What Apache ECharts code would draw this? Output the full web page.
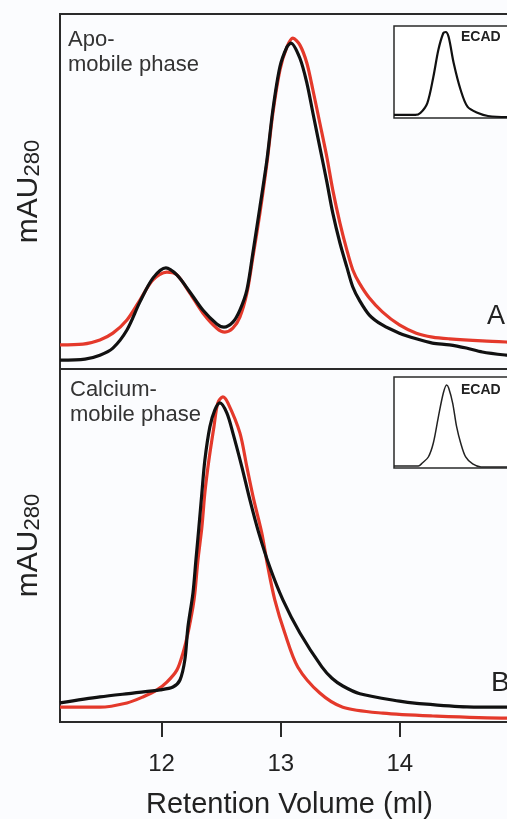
<!DOCTYPE html>
<html><head><meta charset="utf-8">
<script src="https://cdn.jsdelivr.net/npm/echarts@6/dist/echarts.min.js"></script>
<style>html,body{margin:0;padding:0;background:#fbfcfe}#c{width:507px;height:819px}</style>
</head><body><div id="c"></div>
<script>
// ---- data ----
const volumeTicks = [12, 13, 14];
const xLabel = 'Retention Volume (ml)';
const yLabelMain = 'mAU';
const yLabelSub = '280';

// Panel A (Apo- mobile phase)
const apoBlackX = [11.147,11.357,11.482,11.591,11.709,11.818,11.927,12.036,12.128,12.237,12.346,12.463,12.523,12.598,12.657,12.716,12.766,12.825,12.884,12.934,12.993,13.052,13.085,13.160,13.219,13.270,13.328,13.387,13.437,13.497,13.555,13.605,13.660,13.744,13.853,13.996,14.138,14.273,14.416,14.558,14.692,14.893,15.0];
const apoBlackY = [2.5,2.8,3.9,5.9,11.0,18.9,25.6,28.5,26.5,21.7,16.6,12.7,11.8,13.2,16.6,22.3,32.7,45.6,58.9,73.0,85.1,90.7,91.8,87.6,80.6,72.1,62.5,52.7,43.9,35.5,28.7,23.1,19.4,15.2,12.4,10.1,8.5,7.3,6.8,5.9,4.8,3.9,3.6];
const apoRedX = [11.147,11.340,11.482,11.591,11.709,11.818,11.927,12.044,12.128,12.237,12.346,12.463,12.531,12.598,12.657,12.716,12.766,12.825,12.884,12.934,12.993,13.052,13.102,13.160,13.219,13.270,13.328,13.387,13.437,13.497,13.555,13.605,13.660,13.744,13.853,13.996,14.138,14.273,14.416,14.692,14.893,15.0];
const apoRedY = [6.8,7.0,8.2,10.1,13.8,19.4,25.1,27.3,26.5,21.4,15.8,11.5,10.4,11.5,14.6,21.4,31.5,43.9,58.0,72.1,84.2,90.7,93.2,91.3,86.2,78.6,69.3,59.7,50.4,41.1,33.5,27.9,24.2,20.0,16.1,12.4,10.1,9.0,8.5,7.9,7.6,7.5];

// Panel B (Calcium- mobile phase)
const caBlackX = [11.147,11.482,11.759,11.986,12.095,12.154,12.195,12.221,12.263,12.288,12.313,12.338,12.363,12.405,12.447,12.489,12.548,12.598,12.674,12.741,12.816,12.908,13.018,13.161,13.345,13.430,13.521,13.664,13.996,14.142,14.562,14.897,15.0];
const caBlackY = [5.4,7.1,8.2,9.1,9.9,11.9,17.6,26.9,36.5,45.9,55.2,64.9,74.2,83.6,88.4,90.4,87.5,81.9,72.2,62.9,53.5,43.9,34.6,25.2,15.6,12.4,10.2,8.0,5.9,5.3,4.3,4.2,4.2];
const caRedX = [11.147,11.482,11.709,11.843,11.961,12.044,12.128,12.179,12.221,12.263,12.279,12.305,12.338,12.363,12.397,12.439,12.472,12.514,12.556,12.657,12.716,12.774,12.841,12.892,12.950,13.034,13.143,13.328,13.521,13.857,14.277,14.897,15.0];
const caRedY = [4.2,4.2,5.4,7.1,9.1,11.3,14.7,19.5,25.2,32.6,36.5,45.9,55.2,64.9,74.2,83.6,90.4,92.1,90.4,81.9,72.2,62.9,53.5,43.9,34.6,25.2,15.6,8.2,4.2,2.5,1.7,1.1,1.1];

// Insets (ECAD reference)
const ecadAX = [0,0.64,0.79,1.0,1.18,1.33,1.48,1.55,1.64,1.79,2.0,2.21,2.52,2.82,3.42,4.5];
const ecadAY = [3.3,3.3,5.4,16.3,44.6,73.9,92.4,93.5,88.0,59.8,30.4,12.0,5.4,2.2,1.1,1.1];
const ecadBX = [0,0.73,0.85,1.03,1.18,1.33,1.48,1.58,1.64,1.76,1.88,2.0,2.15,2.36,2.61,3.42,4.5];
const ecadBY = [2.2,2.2,5.5,12.1,27.5,56.0,82.4,91.2,87.9,71.4,45.1,27.5,12.1,4.4,1.1,1.1,1.1];

// ---- chart ----
const zip = (xs, ys) => xs.map((x, i) => [x, ys[i]]);
const FONT = 'Liberation Sans, Arial, sans-serif';
const FRAME = '#2a2a2a';
const RED = '#e4392b';
const BLACK = '#111111';
const X_MIN = 11.147, X_MAX = 15.0;

const chart = echarts.init(document.getElementById('c'), null, {renderer: 'canvas'});

const mainY = (gi) => ({
  gridIndex: gi, type: 'value', min: 0, max: 100,
  axisLine: {show: false}, axisTick: {show: false}, axisLabel: {show: false}, splitLine: {show: false},
  name: '{a|' + yLabelMain + '}{b|' + yLabelSub + '}',
  nameLocation: 'middle', nameRotate: 90, nameGap: 16,
  nameTextStyle: {
    color: '#222', fontFamily: FONT,
    rich: {
      a: {fontSize: 30, fontFamily: FONT, color: '#222', verticalAlign: 'bottom', lineHeight: 34},
      b: {fontSize: 22, fontFamily: FONT, color: '#222', verticalAlign: 'bottom', lineHeight: 31}
    }
  }
});
const insetY = (gi) => ({gridIndex: gi, type: 'value', min: 0, max: 100, show: false});
const insetX = (gi) => ({
  gridIndex: gi, type: 'value', min: 0, max: 4.5, interval: 1,
  axisLine: {show: false},
  axisTick: {show: true, inside: true, length: 3, lineStyle: {color: FRAME, width: 1}},
  axisLabel: {show: false}, splitLine: {show: false}
});

const line = (xi, yi, data, color, width) => ({
  type: 'line', xAxisIndex: xi, yAxisIndex: yi, data: data,
  showSymbol: false, smooth: 0.3,
  lineStyle: {color: color, width: width}, silent: true, animation: false, z: 3
});

const PX_PER_ML = 459 / (X_MAX - X_MIN);
const tickLeft = 60 + (12 - X_MIN) * PX_PER_ML;

const txt = (left, top, text, size, lh, fill, weight) => ({
  type: 'text', left: left, top: top, z: 10,
  style: {text: text, fontSize: size, fontFamily: FONT, fill: fill, lineHeight: lh, fontWeight: weight || 'normal'}
});

const G = {outerBoundsMode: 'none', containLabel: false};

chart.setOption({
  animation: false,
  backgroundColor: '#fbfcfe',
  grid: [
    Object.assign({left: 60, top: 14, width: 459, height: 355, show: true, borderColor: FRAME, borderWidth: 2, backgroundColor: '#fbfcfe'}, G),
    Object.assign({left: 60, top: 369, width: 459, height: 353, show: true, borderColor: FRAME, borderWidth: 2, backgroundColor: '#fbfcfe'}, G),
    Object.assign({left: 394, top: 26, width: 150, height: 92, show: true, borderColor: FRAME, borderWidth: 1.5, backgroundColor: '#ffffff', z: 4}, G),
    Object.assign({left: 394, top: 377, width: 150, height: 91, show: true, borderColor: FRAME, borderWidth: 1.5, backgroundColor: '#ffffff', z: 4}, G),
    Object.assign({left: tickLeft, top: 369, width: (X_MAX - 12) * PX_PER_ML, height: 353, show: false}, G)
  ],
  xAxis: [
    {gridIndex: 0, type: 'value', min: X_MIN, max: X_MAX, show: false},
    {gridIndex: 1, type: 'value', min: X_MIN, max: X_MAX,
      axisLine: {show: true, onZero: false, lineStyle: {color: FRAME, width: 2}},
      axisTick: {show: false}, axisLabel: {show: false}, splitLine: {show: false},
      name: xLabel, nameLocation: 'middle', nameGap: 68,
      nameTextStyle: {fontSize: 29, color: '#222', fontFamily: FONT}
    },
    insetX(2), insetX(3),
    {gridIndex: 4, type: 'value', min: 12, max: X_MAX, interval: 1,
      axisLine: {show: false, onZero: false},
      axisTick: {show: true, inside: false, length: 15, lineStyle: {color: FRAME, width: 2}},
      axisLabel: {show: true, showMaxLabel: false, fontSize: 24, margin: 30, color: '#222', fontFamily: FONT,
        formatter: (v) => volumeTicks.indexOf(v) >= 0 ? String(v) : ''},
      splitLine: {show: false}
    }
  ],
  yAxis: [mainY(0), mainY(1), insetY(2), insetY(3), {gridIndex: 4, type: 'value', min: 0, max: 100, show: false}],
  series: [
    line(0, 0, zip(apoRedX, apoRedY), RED, 3.2),
    line(0, 0, zip(apoBlackX, apoBlackY), BLACK, 3.2),
    line(1, 1, zip(caRedX, caRedY), RED, 3.2),
    line(1, 1, zip(caBlackX, caBlackY), BLACK, 3.2),
    Object.assign(line(2, 2, zip(ecadAX, ecadAY), BLACK, 2.2), {z: 6}),
    Object.assign(line(3, 3, zip(ecadBX, ecadBY), '#222', 1.5), {z: 6})
  ],
  graphic: [
    txt(68, 27, 'Apo-\nmobile phase', 22, 25, '#333'),
    txt(70, 377, 'Calcium-\nmobile phase', 22, 25, '#333'),
    txt(461, 29, 'ECAD', 14, 17, '#222', 'bold'),
    txt(461, 382, 'ECAD', 14, 17, '#222', 'bold'),
    txt(487, 302, 'A', 27, 30, '#222'),
    txt(491, 668, 'B', 28, 31, '#222')
  ]
});
</script></body></html>
